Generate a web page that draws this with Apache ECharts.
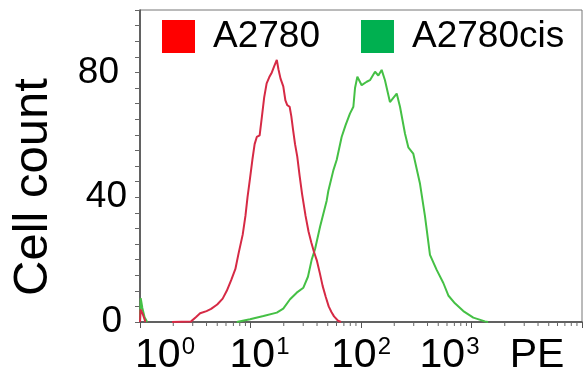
<!DOCTYPE html>
<html>
<head>
<meta charset="utf-8">
<script src="https://cdn.jsdelivr.net/npm/echarts@6/dist/echarts.min.js"></script>
<style>html,body{margin:0;padding:0;background:#fff}#c{width:584px;height:379px}</style>
</head>
<body>
<div id="c"></div>
<script>
// ---- data ----
const seriesNames = ['A2780', 'A2780cis'];
// A2780 (red): PE value, cell count  (null = gap)
const redPE    = [1.0, 1.01, 1.06, 1.12, null, 1.95, 2.9, 3.2, 3.5, 4.0, 4.4, 5.0, 5.6, 6.1, 6.7, 7.3, 7.8, 8.5, 9.0, 9.4, 9.9, 10.4, 10.9, 11.4, 12.1, 12.7, 13.3, 14.0, 14.8, 15.6, 16.4, 17.3, 17.9, 18.7, 19.8, 20.7, 21.5, 22.6, 23.4, 24.3, 25.3, 26.5, 27.8, 29.3, 31.5, 33.5, 35.5, 37.5, 40, 42.5, 45, 48, 51, 54, 57, 62, 66];
const redCount = [0, 4, 2.5, 0, null, 0, 0.2, 1.5, 2.8, 3.5, 4.2, 5.6, 7.5, 10, 13.5, 17, 22, 28, 34, 40, 46, 52, 57, 59.3, 59.8, 66, 72, 76.5, 78.5, 80, 82, 84, 81, 78, 75.5, 71, 69.5, 69, 66, 61.5, 57, 53, 47, 41, 34, 29, 25.5, 22.5, 19.5, 15.5, 11.5, 8, 5, 3.2, 1.8, 0.4, 0];
// A2780cis (green)
const greenPE    = [1.0, 1.015, 1.05, 1.1, 1.16, null, 7.5, 9.9, 13.1, 17.3, 19.8, 22.8, 26.2, 30.1, 33.1, 35.8, 38.4, 42.6, 48.9, 50.6, 56.2, 60.3, 66.8, 72.4, 79.4, 85.3, 88.3, 92.7, 101.4, 112.7, 120.5, 134, 143.5, 153.8, 164.8, 182.8, 210.4, 225.4, 250, 268, 297, 342, 379, 421, 484, 556, 617, 708, 843, 1038, 1324, 1413];
const greenCount = [0, 7.6, 4.5, 1.5, 0, null, 0, 0.9, 1.9, 3, 4.3, 7.3, 9.4, 11, 14.5, 20, 23.4, 30.5, 38.9, 42, 48.6, 52, 59.3, 63, 66.8, 69, 75, 78.6, 75.9, 77, 77.5, 80.2, 79, 80.8, 77.5, 70.5, 73.2, 69, 60.4, 56, 54, 44.3, 34, 21.5, 16.7, 12.5, 8.5, 6, 3.5, 1.4, 0.2, 0];
// axis ticks
const xTickBase = ['10', '10', '10', '10', 'PE'];
const xTickExp  = ['0', '1', '2', '3', ''];
const yTickValues = [0, 40, 80];
const yTickLabels = ['0', '40', '80'];
const yAxisTitle = 'Cell count';
// minor log ticks (2..9 per decade)
const minorTickValues = [];
for (let d = 1; d < 10000; d *= 10) for (let m = 2; m <= 9; m++) minorTickValues.push(m * d);

// ---- build ----
const FONT = 'Liberation Sans, Arial, sans-serif';
const zip = (a, b) => a.map((v, i) => (v === null ? [null, null] : [v, b[i]]));
const redData = zip(redPE, redCount).map(p => p[0] === null ? '-' : p);
const greenData = zip(greenPE, greenCount).map(p => p[0] === null ? '-' : p);

const xShift = [25, 9, 0, -22, -45];
const rich = {};
xTickBase.forEach((b, i) => {
  const s = xShift[i];
  const hasExp = xTickExp[i] !== '';
  rich['b' + i] = { fontSize: 41, fontFamily: FONT, color: '#000',
    padding: [0, hasExp ? 0 : (s < 0 ? -2 * s : 0), 0, s > 0 ? 2 * s : 0] };
  rich['s' + i] = { fontSize: 24, fontFamily: FONT, color: '#000', verticalAlign: 'top',
    padding: [0, s < 0 ? -2 * s : 0, 0, 1] };
});
const yPad = [5, 0, 8];
const yRich = {};
yTickLabels.forEach((t, i) => {
  yRich['y' + i] = { fontSize: 37, fontFamily: FONT, color: '#000', padding: [0, yPad[i], 0, 0] };
});

const chart = echarts.init(document.getElementById('c'), null, { renderer: 'canvas' });
chart.setOption({
  animation: false,
  backgroundColor: '#fff',
  grid: { left: 140, right: 2, top: 10, bottom: 57, show: true, borderColor: '#777', borderWidth: 1, backgroundColor: 'transparent' },
  legend: {
    left: 162, top: 18, padding: 0, itemWidth: 33, itemHeight: 34, itemGap: 41, icon: 'path://M0 0H10V10H0Z',
    textStyle: { fontSize: 37, fontFamily: FONT, color: '#000', padding: [0, 0, 0, 13] },
    data: [
      { name: seriesNames[0], itemStyle: { color: '#ff0000' } },
      { name: seriesNames[1], itemStyle: { color: '#00b050' } }
    ]
  },
  xAxis: {
    type: 'log', logBase: 10, min: 1, max: 10000,
    axisLine: { show: true, lineStyle: { color: '#444', width: 1.5 } },
    axisTick: { show: true, length: 6, lineStyle: { color: '#555' } },
    splitLine: { show: false },
    axisLabel: {
      margin: 13, showMaxLabel: true, showMinLabel: true,
      formatter: function (v) {
        const i = Math.round(Math.log10(v));
        if (i < 0 || i >= xTickBase.length) return '';
        return xTickExp[i] === '' ? '{b' + i + '|' + xTickBase[i] + '}'
          : '{b' + i + '|' + xTickBase[i] + '}{s' + i + '|' + xTickExp[i] + '}';
      },
      rich: rich
    }
  },
  yAxis: {
    type: 'value', min: 0, max: 100, interval: 5,
    name: yAxisTitle, nameLocation: 'middle', nameRotate: 90, nameGap: 82,
    nameTextStyle: { fontSize: 49, fontFamily: FONT, color: '#000', padding: [0, 42, 0, 0] },
    axisLine: { show: true, lineStyle: { color: '#444', width: 1.5 } },
    axisTick: { show: true, length: 5, lineStyle: { color: '#666' } },
    splitLine: { show: false },
    axisLabel: {
      margin: 13,
      formatter: function (v) {
        const i = yTickValues.indexOf(v);
        return i < 0 ? '' : '{y' + i + '|' + yTickLabels[i] + '}';
      },
      rich: yRich
    }
  },
  series: [
    { name: seriesNames[0], type: 'line', data: redData, showSymbol: false, symbol: 'none',
      connectNulls: false, lineStyle: { color: '#d62a45', width: 2 }, itemStyle: { color: '#d62a45' }, z: 3 },
    { name: seriesNames[1], type: 'line', data: greenData, showSymbol: false, symbol: 'none',
      connectNulls: false, lineStyle: { color: '#45c045', width: 2 }, itemStyle: { color: '#45c045' }, z: 2 },
    { type: 'custom', silent: true, clip: false, z: 1,
      data: minorTickValues.map(v => [v, 0]),
      renderItem: function (params, api) {
        const p = api.coord([api.value(0), 0]);
        return { type: 'line', shape: { x1: p[0], y1: p[1], x2: p[0], y2: p[1] + 4 }, style: { stroke: '#666', lineWidth: 1 } };
      }
    }
  ]
});
</script>
</body>
</html>
